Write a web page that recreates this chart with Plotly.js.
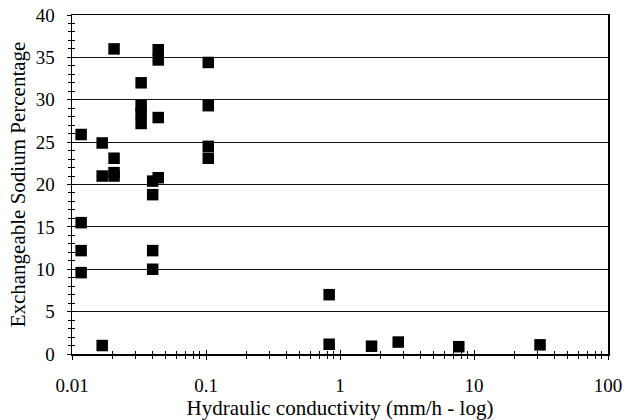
<!DOCTYPE html>
<html>
<head>
<meta charset="utf-8">
<script src="https://cdn.plot.ly/plotly-3.0.1.min.js"></script>
<style>
html,body{margin:0;padding:0;background:#fff;}
#chart{width:625px;height:420px;}
#chart text{font-family:'Liberation Serif' !important;}
</style>
</head>
<body>
<div id="chart"></div>
<script>
// Hydraulic conductivity (mm/h) and Exchangeable Sodium Percentage
var conductivity = [0.0117, 0.0117, 0.0117, 0.0117,
                    0.0168, 0.0168, 0.0168,
                    0.0206, 0.0206, 0.0206, 0.0206,
                    0.0328, 0.0328, 0.0328, 0.0328,
                    0.040, 0.040, 0.040, 0.040,
                    0.044, 0.044, 0.044, 0.044,
                    0.104, 0.104, 0.104, 0.104,
                    0.83, 0.83, 1.72, 2.72, 7.7, 31.1];
var esp = [25.9, 15.5, 12.2, 9.6,
           24.9, 21.0, 1.0,
           36.0, 23.1, 21.0, 21.4,
           32.0, 29.3, 28.4, 27.2,
           20.4, 18.8, 12.2, 10.0,
           35.9, 34.7, 27.9, 20.8,
           34.4, 29.3, 24.5, 23.1,
           7.0, 1.15, 0.92, 1.41, 0.86, 1.08];
var xTickVals = [0.01, 0.1, 1, 10, 100];
var xTickText = ['0.01', '0.1', '1', '10', '100'];
var yTickVals = [0, 5, 10, 15, 20, 25, 30, 35, 40];

var fontFam = 'Liberation Serif';

var traces = [
  {
    x: conductivity, y: esp, type: 'scatter', mode: 'markers',
    marker: {symbol: 'square', size: 11.5, color: '#000'},
    hoverinfo: 'x+y', showlegend: false
  },
  {
    x: [], y: [], type: 'scatter', mode: 'markers',
    xaxis: 'x2', yaxis: 'y2', showlegend: false, hoverinfo: 'skip'
  }
];

var layout = {
  width: 625, height: 420,
  margin: {l: 72, r: 17, t: 15, b: 66},
  paper_bgcolor: '#fff', plot_bgcolor: '#fff',
  font: {family: fontFam, size: 17, color: '#000'},
  showlegend: false,
  xaxis: {
    type: 'log', range: [-2, 2],
    tickvals: xTickVals, ticktext: xTickText,
    ticks: 'outside', ticklen: 4, tickwidth: 1, tickcolor: '#000',
    ticklabelstandoff: 10,
    minor: {ticks: 'outside', ticklen: 3, tickwidth: 1, tickcolor: '#000', dtick: 'D1'},
    showline: true, linecolor: '#000', linewidth: 1.5, mirror: true,
    showgrid: false, zeroline: false,
    tickfont: {family: fontFam, size: 19, color: '#000'},
    title: {text: 'Hydraulic conductivity (mm/h - log)', font: {family: fontFam, size: 21, color: '#000'}, standoff: 4}
  },
  yaxis: {
    range: [0, 40], tickvals: yTickVals,
    ticks: 'outside', ticklen: 4, tickwidth: 1, tickcolor: '#000',
    ticklabelstandoff: 8,
    minor: {ticks: 'outside', ticklen: 3, tickwidth: 1, tickcolor: '#000', dtick: 1},
    showline: true, linecolor: '#000', linewidth: 1.5, mirror: true,
    showgrid: true, gridcolor: '#111', gridwidth: 1, zeroline: false,
    tickfont: {family: fontFam, size: 19, color: '#000'},
    title: {text: 'Exchangeable Sodium Percentage', font: {family: fontFam, size: 21, color: '#000'}, standoff: 4}
  },
  xaxis2: {
    type: 'log', range: [-2, 2], overlaying: 'x', matches: 'x',
    tickvals: xTickVals, ticks: 'inside', ticklen: 4, tickwidth: 1, tickcolor: '#000',
    minor: {ticks: 'inside', ticklen: 3, tickwidth: 1, tickcolor: '#000', dtick: 'D1'},
    showticklabels: false, showgrid: false, zeroline: false, showline: false, side: 'bottom'
  },
  yaxis2: {
    range: [0, 40], overlaying: 'y', matches: 'y',
    tickvals: yTickVals, ticks: 'inside', ticklen: 4, tickwidth: 1, tickcolor: '#000',
    minor: {ticks: 'inside', ticklen: 3, tickwidth: 1, tickcolor: '#000', dtick: 1},
    showticklabels: false, showgrid: false, zeroline: false, showline: false, side: 'left'
  }
};

Plotly.newPlot('chart', traces, layout, {displayModeBar: false, staticPlot: true});
</script>
</body>
</html>
